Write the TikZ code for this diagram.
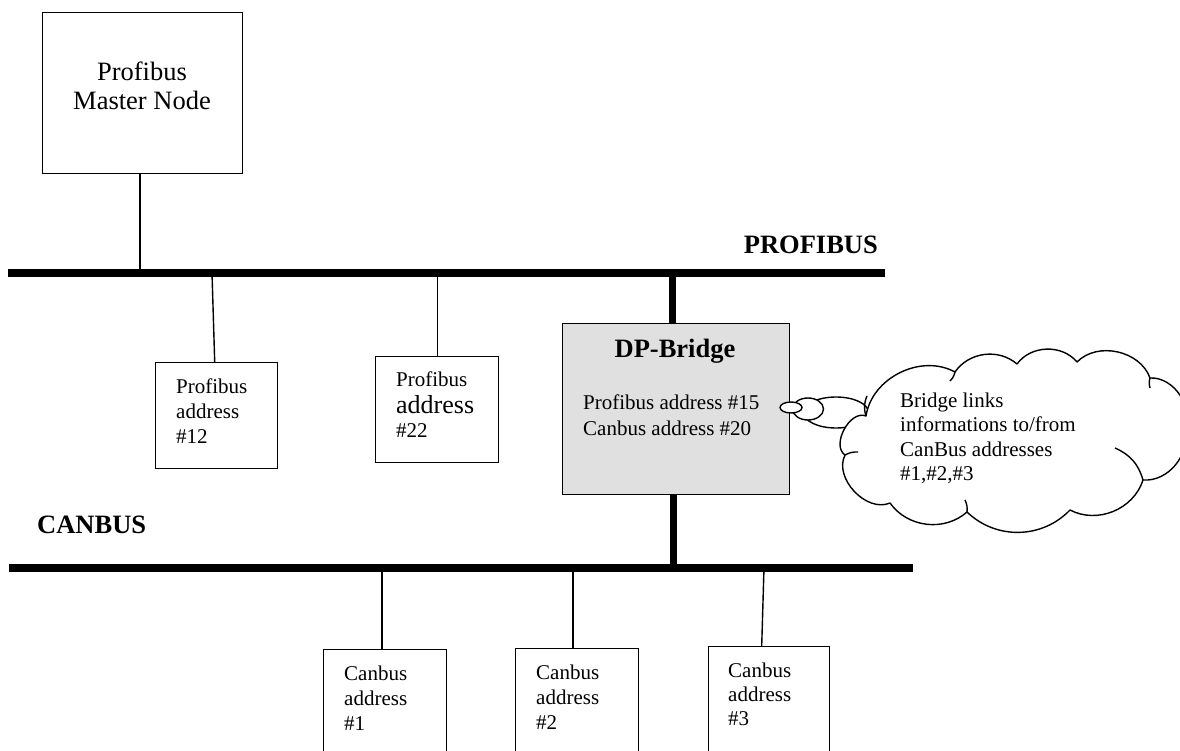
\documentclass[tikz,border=0pt]{standalone}
\usepackage{fontspec}
\setmainfont{Liberation Serif}
\usetikzlibrary{shapes.geometric}
\begin{document}
\begin{tikzpicture}[x=1pt,y=-1pt,
  box/.style={draw, line width=1.4pt, inner sep=0pt, fill=white, anchor=north west},
  bus/.style={line width=8pt},
  drop/.style={line width=1.4pt},
  thickdrop/.style={line width=7pt},
  txt/.style={inner sep=0pt, align=left, anchor=north west, font=\fontsize{21}{25}\selectfont},
  bigtxt/.style={inner sep=0pt, font=\bfseries\fontsize{26.5}{30}\selectfont},
  bubble/.style={ellipse, draw, line width=1.4pt, fill=white, inner sep=0pt},
  cloudline/.style={line width=1.4pt, fill=white, line join=round}
]
\useasboundingbox (0,0) rectangle (1180,751);
\clip (0,0) rectangle (1180,751);

% buses
\coordinate (pb1) at (8,273);
\coordinate (pb2) at (885,273);
\coordinate (cb1) at (9,567.5);
\coordinate (cb2) at (913,567.5);
\draw[bus] (pb1) -- (pb2);
\draw[bus] (cb1) -- (cb2);

\node[bigtxt, anchor=east] (plabel) at (878,245) {PROFIBUS};
\node[bigtxt, anchor=west] (clabel) at (37,525) {CANBUS};

% master
\node[box, minimum width=200pt, minimum height=161pt] (master) at (42,12) {};
\node[inner sep=0pt, align=center, anchor=north, font=\fontsize{26.5}{29}\selectfont] (mtxt) at (142,62) {Profibus\\Master Node};
\coordinate (dm) at (140,273);
\draw[drop] (master.south -| dm) -- (dm);

% profibus slaves
\node[box, minimum width=122pt, minimum height=106pt] (b12) at (155,362) {};
\node[txt] (t12) at (176,378.5) {Profibus\\address\\\#12};
\coordinate (d12) at (212,273);
\draw[drop] (d12) -- ([xshift=-2pt]b12.north);

\node[box, minimum width=123pt, minimum height=106pt] (b22) at (375,356) {};
\node[txt] (t22) at (396,371.5) {Profibus\\[2pt]{\fontsize{26}{28}\selectfont address}\\[-1pt]\#22};
\draw[drop] (b22.north) -- (b22.north |- pb1);

% DP bridge
\node[box, fill=black!12, minimum width=227pt, minimum height=171pt] (dp) at (562,323) {};
\node[bigtxt] (dpt) at (675,351) {DP-Bridge};
\node[txt, font=\fontsize{21}{26}\selectfont] (dpa) at (583,394.5) {Profibus address \#15\\Canbus address \#20};
\coordinate (dpu) at (672,273);
\coordinate (dpl) at (673,567.5);
\draw[thickdrop] (dpu) -- (dpu |- dp.north);
\draw[thickdrop] (dpl |- dp.south) -- (dpl);

% canbus slaves
\node[box, minimum width=123pt, minimum height=130pt] (c1) at (323,649) {};
\node[txt] (tc1) at (344,665.5) {Canbus\\address\\\#1};
\coordinate (dc1) at (382,567.5);
\draw[drop] (dc1) -- (dc1 |- c1.north);

\node[box, minimum width=123pt, minimum height=130pt] (c2) at (515,648) {};
\node[txt] (tc2) at (536,664.5) {Canbus\\address\\\#2};
\coordinate (dc2) at (573,567.5);
\draw[drop] (dc2) -- (dc2 |- c2.north);

\node[box, minimum width=121pt, minimum height=130pt] (c3) at (708,646) {};
\node[txt, font=\fontsize{21}{24}\selectfont] (tc3) at (728,662.5) {Canbus\\address\\\#3};
\coordinate (dc3) at (764,567.5);
\draw[drop] (dc3) -- ([xshift=-7.5pt]c3.north);

% thought bubbles and cloud
\node[bubble, minimum width=65pt, minimum height=31pt] (bub3) at (836,412.5) {};
\node[bubble, minimum width=31pt, minimum height=22pt] (bub2) at (808,409) {};
\node[bubble, minimum width=22pt, minimum height=11pt] (bub1) at (791,407.5) {};
\draw[cloudline] (866,416)
  to[bend left=55] (955,372)
  to[bend left=48] (1017,364)
  to[bend left=52] (1077,362)
  to[bend left=58] (1150,378)
  to[bend left=60] (1184,430)
  to[bend left=55] (1143,480)
  to[bend left=50] (1070,510)
  to[bend left=45] (967,512)
  to[bend left=48] (890,503)
  to[bend left=70] (845,455)
  to[bend left=84] (866,416) -- cycle;
% inner hooks of the cloud outline
\draw[line width=1.4pt] (866,416) to[bend left=20] (867,396);
\draw[line width=1.4pt] (955,372) to[bend left=15] (950,381);
\draw[line width=1.4pt] (1150,378) to[bend right=15] (1150,388);
\draw[line width=1.4pt] (1143,480) to[bend right=25] (1115,448);
\draw[line width=1.4pt] (967,512) to[bend right=15] (965,500);
\draw[line width=1.4pt] (845,455) to[bend left=15] (858,452);
\node[txt, font=\fontsize{21}{24.5}\selectfont] (ctxt) at (900,392.5) {Bridge links\\informations to/from\\CanBus addresses\\\#1,\#2,\#3};
\end{tikzpicture}
\end{document}
